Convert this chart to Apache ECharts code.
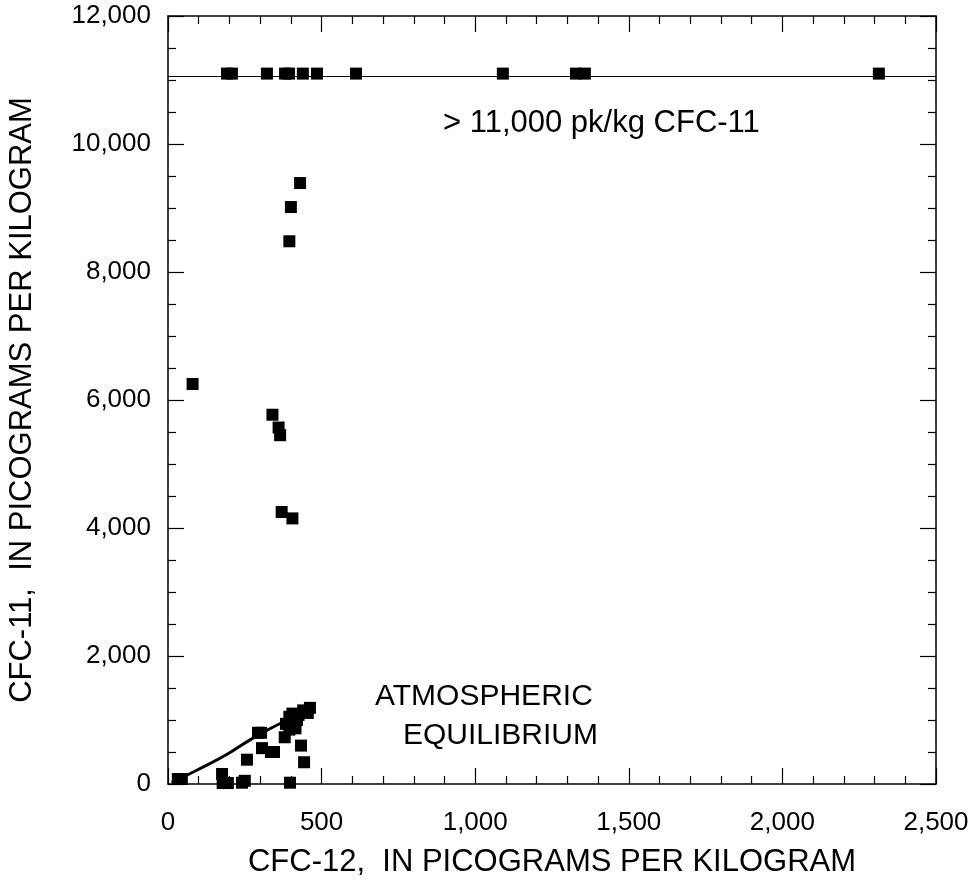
<!DOCTYPE html>
<html>
<head>
<meta charset="utf-8">
<script src="https://cdn.jsdelivr.net/npm/echarts@6/dist/echarts.min.js"></script>
<style>
html,body{margin:0;padding:0;background:#fff;}
#chart{width:979px;height:886px;}
</style>
</head>
<body>
<div id="chart"></div>
<script>
// CFC-12 (x) and CFC-11 (y) concentrations, pg/kg
const topRowCfc12 = [192, 208, 322, 381, 394, 439, 485, 612, 1090, 1328, 1357, 2314];
const topRowCfc11 = 11100; // plotted value for samples > 11,000 pg/kg
const cutoffLine = 11060;

const midCfc12 = [430, 400, 395, 80, 340, 360, 365, 370, 405];
const midCfc11 = [9390, 9015, 8480, 6250, 5770, 5570, 5450, 4250, 4150];

const lowCfc12 = [32, 45, 176, 178, 195, 241, 250, 257, 293, 303, 306, 335, 345, 397, 380, 384, 433, 443, 462, 455, 395, 405, 410, 420, 415, 425, 440, 395];
const lowCfc11 = [78, 78, 156, 15, 15, 20, 50, 380, 800, 800, 560, 500, 500, 20, 730, 940, 600, 340, 1190, 1110, 1050, 1100, 950, 1000, 870, 1080, 1150, 850];

const equilCfc12 = [12, 100, 191, 267, 330, 390];
const equilCfc11 = [20, 230, 460, 690, 860, 1000];

const xTicks = [0, 500, 1000, 1500, 2000, 2500];
const yTicks = [0, 2000, 4000, 6000, 8000, 10000, 12000];

const FONT = '"Liberation Sans", Arial, Helvetica, sans-serif';

const points = [];
topRowCfc12.forEach(x => points.push([x, topRowCfc11]));
midCfc12.forEach((x, i) => points.push([x, midCfc11[i]]));
lowCfc12.forEach((x, i) => points.push([x, lowCfc11[i]]));
const equil = equilCfc12.map((x, i) => [x, equilCfc11[i]]);

const fmt = v => Number(v).toLocaleString('en-US');
const axisLine = {show: true, onZero: false, lineStyle: {color: '#000', width: 1.5}};

function xAx(pos, showLabel) {
  return {
    type: 'value', position: pos, min: xTicks[0], max: xTicks[xTicks.length - 1],
    interval: xTicks[1] - xTicks[0],
    axisLine: axisLine,
    axisTick: {show: true, inside: true, length: 16, lineStyle: {color: '#000', width: 1.2}},
    minorTick: {show: true, splitNumber: 5, length: 8, lineStyle: {color: '#000', width: 1.2}},
    splitLine: {show: false},
    axisLabel: {show: showLabel, formatter: fmt, margin: 26, color: '#000', fontSize: 26, fontFamily: FONT},
    name: showLabel ? 'CFC-12,  IN PICOGRAMS PER KILOGRAM' : '',
    nameLocation: 'middle', nameGap: 63,
    nameTextStyle: {color: '#000', fontSize: 31, fontFamily: FONT}
  };
}
function yAx(pos, showLabel) {
  return {
    type: 'value', position: pos, min: yTicks[0], max: yTicks[yTicks.length - 1],
    interval: yTicks[1] - yTicks[0],
    axisLine: axisLine,
    axisTick: {show: true, inside: true, length: 16, lineStyle: {color: '#000', width: 1.2}},
    minorTick: {show: true, splitNumber: 4, length: 8, lineStyle: {color: '#000', width: 1.2}},
    splitLine: {show: false},
    axisLabel: {show: showLabel, formatter: fmt, margin: 17, color: '#000', fontSize: 26, fontFamily: FONT},
    name: showLabel ? 'CFC-11,  IN PICOGRAMS PER KILOGRAM' : '',
    nameLocation: 'middle', nameGap: 130,
    nameTextStyle: {color: '#000', fontSize: 31, fontFamily: FONT}
  };
}

const chart = echarts.init(document.getElementById('chart'), null, {renderer: 'canvas'});
chart.setOption({
  animation: false,
  backgroundColor: '#fff',
  grid: {left: 168, top: 16, width: 768, height: 768, containLabel: false, outerBoundsMode: 'none'},
  xAxis: [xAx('bottom', true), xAx('top', false)],
  yAxis: [yAx('left', true), yAx('right', false)],
  series: [
    {
      type: 'line', data: equil, smooth: true, symbol: 'none', z: 3,
      lineStyle: {color: '#000', width: 3}
    },
    {
      type: 'scatter', data: points, symbol: 'rect', symbolSize: 12, z: 4,
      itemStyle: {color: '#000', opacity: 1},
      markLine: {
        silent: true, symbol: 'none', label: {show: false},
        lineStyle: {color: '#000', width: 1.2, type: 'solid', opacity: 1},
        data: [{yAxis: cutoffLine}]
      }
    }
  ],
  graphic: [
    {type: 'text', left: 443, top: 108, style: {text: '> 11,000 pk/kg CFC-11', fill: '#000', fontSize: 31, fontFamily: FONT}},
    {type: 'text', left: 375, top: 682, style: {text: 'ATMOSPHERIC', fill: '#000', fontSize: 30, fontFamily: FONT}},
    {type: 'text', left: 403, top: 721, style: {text: 'EQUILIBRIUM', fill: '#000', fontSize: 30, fontFamily: FONT}}
  ]
});
</script>
</body>
</html>
